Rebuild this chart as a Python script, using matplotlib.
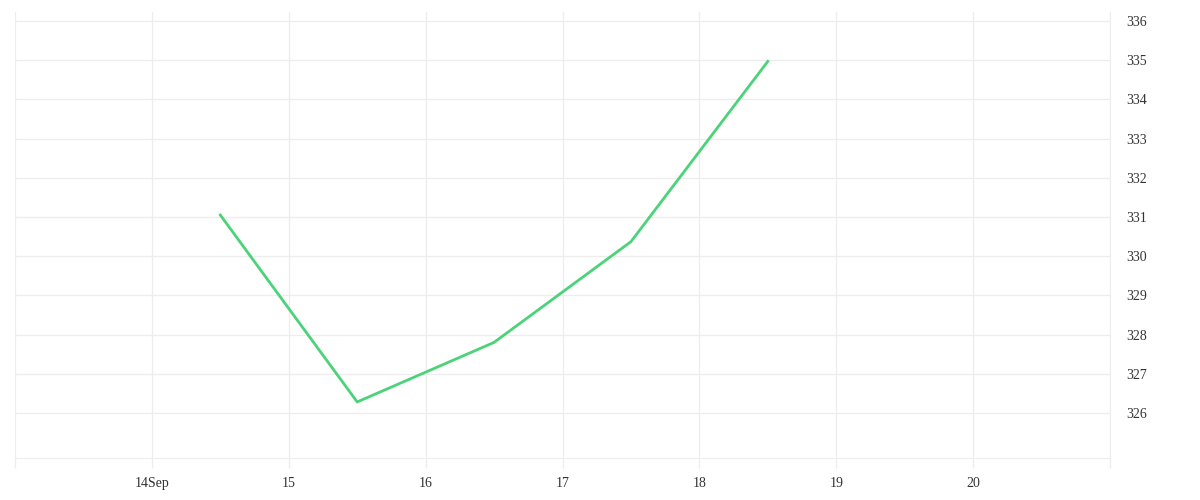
import matplotlib
matplotlib.use("Agg")
import matplotlib.pyplot as plt
import pandas as pd

# data
dates = pd.to_datetime(["2021-09-14 12:00", "2021-09-15 12:00", "2021-09-16 12:00",
                        "2021-09-17 12:00", "2021-09-18 12:00"])
values = [331.05, 326.28, 327.8, 330.37, 334.97]

tick_days = pd.date_range("2021-09-13", "2021-09-21", freq="D")
tick_labels = ["", "14Sep", "15", "16", "17", "18", "19", "20", ""]
y_ticks = list(range(326, 337))

plt.rcParams['font.family'] = ['Liberation Serif', 'DejaVu Serif']

grid_col = '#ededed'
text_col = '#333333'

fig = plt.figure(figsize=(12, 5), dpi=100)
ax = fig.add_axes([15 / 1200, 42 / 500, 1095 / 1200, 446 / 500])

ax.plot(dates, values, color='#4cd37a', linewidth=2.0)

ax.set_xlim(tick_days[0], tick_days[-1])
ax.set_ylim(324.85, 336.23)

ax.set_xticks(tick_days)
ax.set_xticklabels(tick_labels)
ax.set_yticks(y_ticks)

ax.yaxis.tick_right()
ax.grid(True, color=grid_col, linewidth=0.9)
ax.set_axisbelow(True)

ax.tick_params(axis='x', length=7, width=0.9, color=grid_col, pad=7,
               labelsize=10, labelcolor=text_col)
ax.tick_params(axis='y', length=0, pad=12, labelsize=10, labelcolor=text_col)
for lab in ax.get_yticklabels():
    lab.set_horizontalalignment('left')

for s in ['top', 'left']:
    ax.spines[s].set_visible(False)
ax.spines['bottom'].set_color(grid_col)
ax.spines['right'].set_color(grid_col)

fig.savefig("out.png", dpi=100, facecolor='white')
